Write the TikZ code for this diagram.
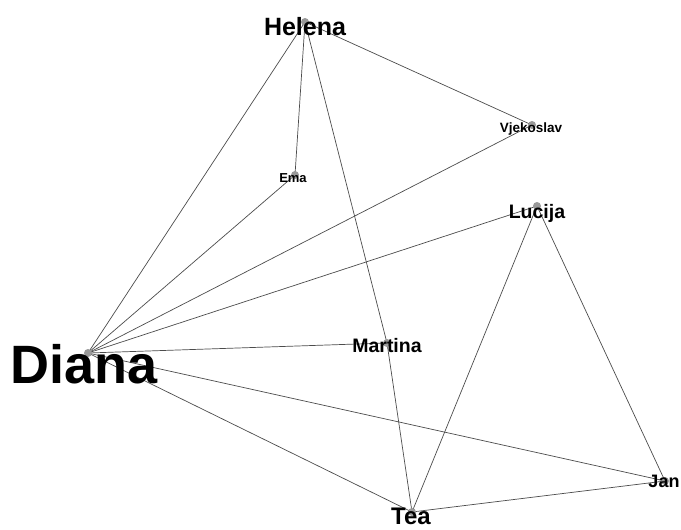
\documentclass[tikz,border=0pt]{standalone}
\usepackage{fontspec}
\setmainfont{Liberation Sans}
\begin{document}
\begin{tikzpicture}[x=1pt,y=-1pt,
  edge/.style={draw=black!70,line width=0.7pt},
  dot/.style={circle,fill=black!40,draw=none,minimum size=8pt,inner sep=0pt},
  lbl/.style={anchor=base,inner sep=0pt,font=\bfseries}]
\useasboundingbox[fill=white] (0,0) rectangle (681,530);
% node positions
\coordinate (Helena) at (305,22);
\coordinate (Vjekoslav) at (532,125);
\coordinate (Ema) at (295,175);
\coordinate (Lucija) at (537,206);
\coordinate (Diana) at (88,353);
\coordinate (Martina) at (387,343);
\coordinate (Tea) at (412,512);
\coordinate (Jan) at (665,481);
% edges
\draw[edge] (Helena) -- (Ema);
\draw[edge] (Helena) -- (Vjekoslav);
\draw[edge] (Helena) -- (Diana);
\draw[edge] (Helena) -- (Martina);
\draw[edge] (Martina) -- (Tea);
\draw[edge] (Diana) -- (Ema);
\draw[edge] (Diana) -- (Vjekoslav);
\draw[edge] (Diana) -- (Lucija);
\draw[edge] (Diana) -- (Martina);
\draw[edge] (Diana) -- (Jan);
\draw[edge] (Diana) -- (Tea);
\draw[edge] (Lucija) -- (Tea);
\draw[edge] (Lucija) -- (Jan);
\draw[edge] (Tea) -- (Jan);
% dots
\foreach \n in {Helena,Vjekoslav,Ema,Lucija,Diana,Martina,Tea,Jan}
  \node[dot] (\n-dot) at (\n) {};
% labels
\node[lbl] (Helena-label) at (305,35) {\fontsize{25}{28}\selectfont Helena};
\node[lbl] (Vjekoslav-label) at (531,132) {\fontsize{13.5}{15}\selectfont Vjekoslav};
\node[lbl] (Ema-label) at (293,182) {\fontsize{13}{15}\selectfont Ema};
\node[lbl] (Lucija-label) at (537,218) {\fontsize{19.5}{22}\selectfont Lucija};
\node[lbl] (Diana-label) at (84,383) {\fontsize{54}{58}\selectfont Diana};
\node[lbl] (Martina-label) at (387,352) {\fontsize{19.5}{22}\selectfont Martina};
\node[lbl] (Tea-label) at (411,524) {\fontsize{24}{28}\selectfont Tea};
\node[lbl] (Jan-label) at (664,487) {\fontsize{18}{20}\selectfont Jan};
\end{tikzpicture}
\end{document}
